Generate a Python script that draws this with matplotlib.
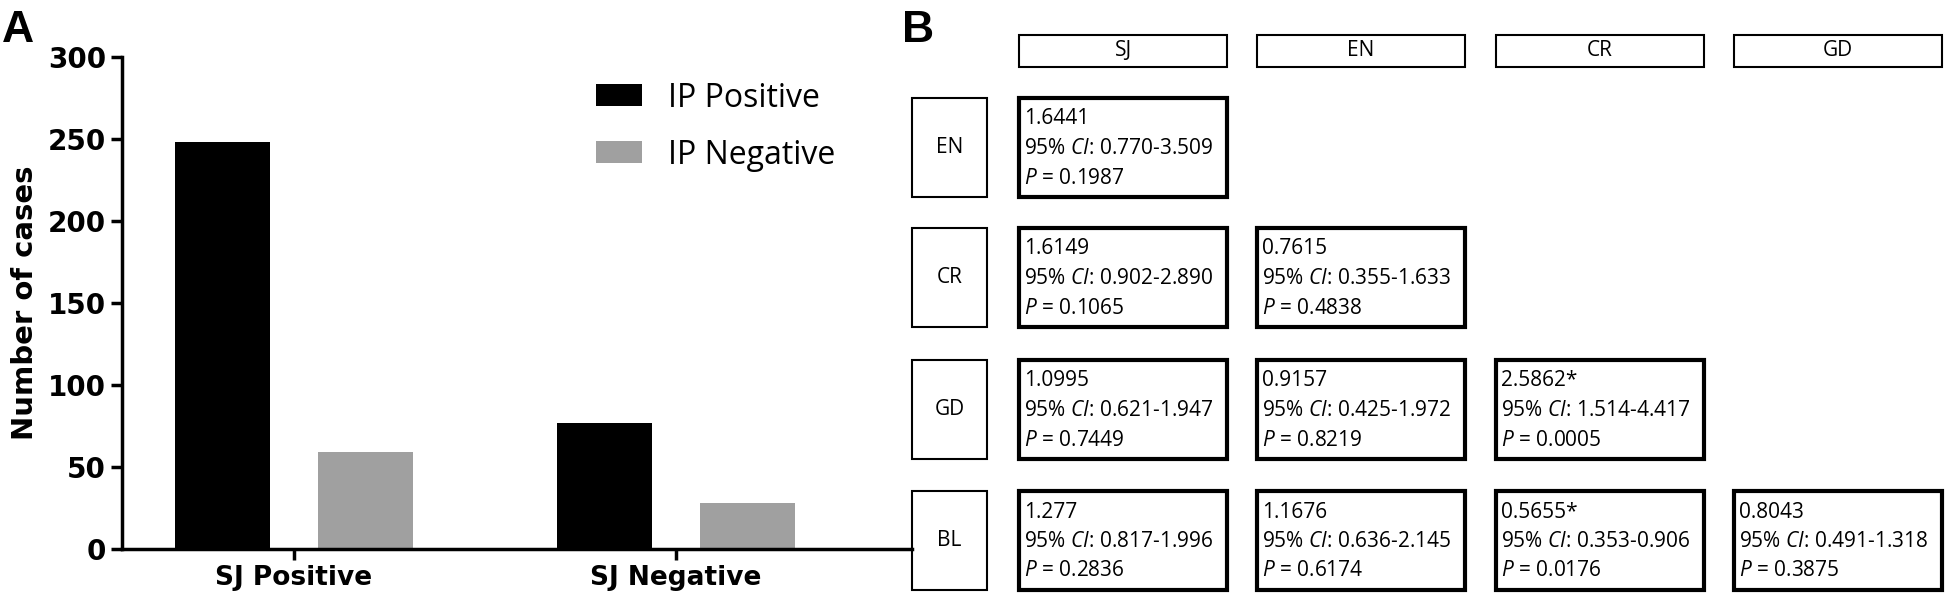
import matplotlib
matplotlib.use("Agg")
import matplotlib.pyplot as plt
from matplotlib.patches import Rectangle
import numpy as np

# ---------------- data ----------------
groups = ["SJ Positive", "SJ Negative"]
series_names = ["IP Positive", "IP Negative"]
ip_positive = [248, 77]
ip_negative = [59, 28]
y_ticks = [0, 50, 100, 150, 200, 250, 300]

col_labels = ["SJ", "EN", "CR", "GD"]
row_labels = ["EN", "CR", "GD", "BL"]
odds = [["1.6441"],
        ["1.6149", "0.7615"],
        ["1.0995", "0.9157", "2.5862*"],
        ["1.277", "1.1676", "0.5655*", "0.8043"]]
ci = [["0.770-3.509"],
      ["0.902-2.890", "0.355-1.633"],
      ["0.621-1.947", "0.425-1.972", "1.514-4.417"],
      ["0.817-1.996", "0.636-2.145", "0.353-0.906", "0.491-1.318"]]
pvals = [["0.1987"],
         ["0.1065", "0.4838"],
         ["0.7449", "0.8219", "0.0005"],
         ["0.2836", "0.6174", "0.0176", "0.3875"]]

TXT = ["Open Sans", "DejaVu Sans"]
BOLD = ["DejaVu Sans"]
plt.rcParams['font.family'] = TXT
plt.rcParams['mathtext.fontset'] = 'custom'
plt.rcParams['mathtext.rm'] = 'Open Sans'
plt.rcParams['mathtext.it'] = 'Open Sans:italic'

W, H = 1946, 606
fig = plt.figure(figsize=(W / 100, H / 100), dpi=100)

# ---------------- panel A ----------------
axA = fig.add_axes([122 / W, 1 - 549 / H, (912 - 122) / W, (549 - 57) / H])
x = np.arange(len(groups))
bw = 0.249
off = 0.188
axA.bar(x - off, ip_positive, bw, color="black", label=series_names[0])
axA.bar(x + off, ip_negative, bw, color="#a0a0a0", label=series_names[1])
axA.set_xlim(-0.45, 1.618)
axA.set_ylim(0, 300)
axA.set_yticks(y_ticks)
axA.set_xticks(x)
axA.set_xticklabels(groups, fontsize=19, fontweight="bold", family=BOLD)
axA.tick_params(axis="y", width=2.5, length=8)
axA.tick_params(axis="x", width=2.5, length=8)
for lab in axA.get_yticklabels():
    lab.set_fontweight("bold")
    lab.set_family(BOLD)
    lab.set_fontsize(20)
for s in ["top", "right"]:
    axA.spines[s].set_visible(False)
for s in ["left", "bottom"]:
    axA.spines[s].set_linewidth(2.5)
axA.set_ylabel("Number of cases", fontsize=21, fontweight="bold", family=BOLD, labelpad=6)
leg = axA.legend(loc="upper left", bbox_to_anchor=(0.600, 0.950), frameon=False,
                 prop={"family": TXT, "size": 23},
                 handlelength=1.44, handleheight=0.69, labelspacing=0.75, handletextpad=0.81,
                 borderaxespad=0.0, borderpad=0.0)
fig.text(2 / W, 1 - 30 / H, "A", fontsize=32, fontweight="bold",
         family=["Liberation Sans", "DejaVu Sans"], va="center", ha="left")

# ---------------- panel B ----------------
axB = fig.add_axes([0, 0, 1, 1])
axB.set_xlim(0, W)
axB.set_ylim(H, 0)
axB.axis("off")
axB.patch.set_alpha(0)

fig.text(902 / W, 1 - 30 / H, "B", fontsize=32, fontweight="bold",
         family=["Liberation Sans", "DejaVu Sans"], va="center", ha="left")

col_x0 = [1019, 1257, 1496, 1734]
col_w = 208
head_y0, head_h = 35, 32
row_y0 = [98, 228, 360, 491]
row_h = 99
lab_x0, lab_w = 912, 75

for j, c in enumerate(col_labels):
    axB.add_patch(Rectangle((col_x0[j], head_y0), col_w, head_h, fill=False, lw=1.5, ec="black"))
    axB.text(col_x0[j] + col_w / 2, head_y0 + head_h / 2, c, ha="center", va="center", fontsize=15)

for i, r in enumerate(row_labels):
    y0 = row_y0[i]
    axB.add_patch(Rectangle((lab_x0, y0), lab_w, row_h, fill=False, lw=1.5, ec="black"))
    axB.text(lab_x0 + lab_w / 2, y0 + row_h / 2, r, ha="center", va="center", fontsize=15)
    for j in range(len(odds[i])):
        x0 = col_x0[j]
        axB.add_patch(Rectangle((x0, y0), col_w, row_h, fill=False, lw=3, ec="black"))
        lines = [odds[i][j], "95% $\\mathit{CI}$: " + ci[i][j], "$\\mathit{P}$ = " + pvals[i][j]]
        for k, t in enumerate(lines):
            axB.text(x0 + 5, y0 + 21 + k * 29.5, t, ha="left", va="center", fontsize=15)

fig.savefig("out.png", dpi=100)
